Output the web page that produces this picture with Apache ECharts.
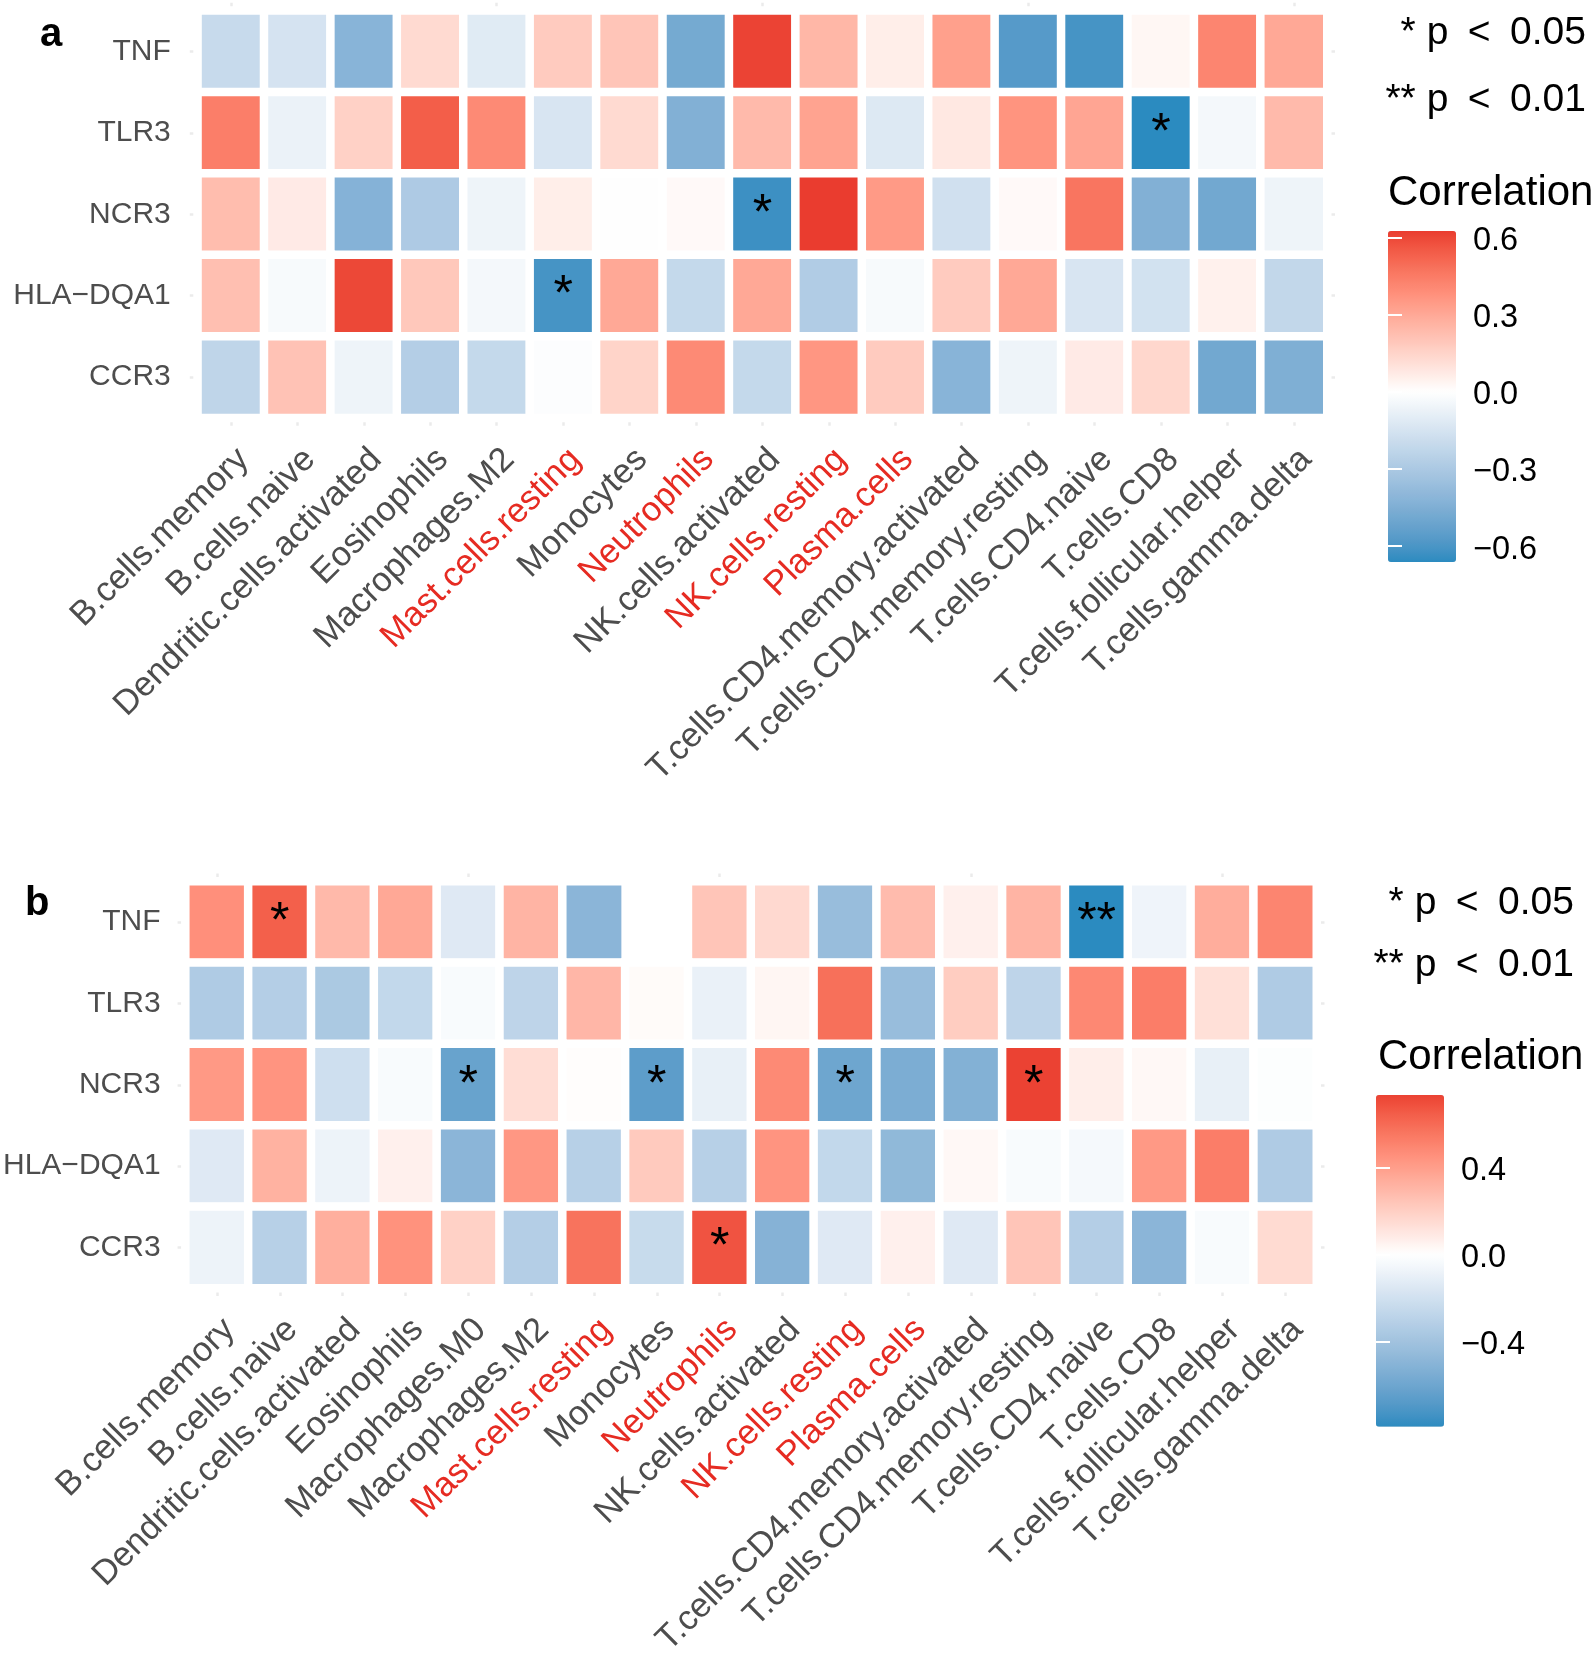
<!DOCTYPE html>
<html><head><meta charset="utf-8">
<script src="https://cdn.jsdelivr.net/npm/echarts@6/dist/echarts.min.js"></script>
<style>html,body{margin:0;padding:0;background:#fff}#c{width:1594px;height:1662px}</style>
</head><body><div id="c"></div>
<script>
// ---------- data ----------
const genes = ['TNF', 'TLR3', 'NCR3', 'HLA\u2212DQA1', 'CCR3'];
const cellsA = ['B.cells.memory','B.cells.naive','Dendritic.cells.activated','Eosinophils','Macrophages.M2','Mast.cells.resting','Monocytes','Neutrophils','NK.cells.activated','NK.cells.resting','Plasma.cells','T.cells.CD4.memory.activated','T.cells.CD4.memory.resting','T.cells.CD4.naive','T.cells.CD8','T.cells.follicular.helper','T.cells.gamma.delta'];
const cellsB = ['B.cells.memory','B.cells.naive','Dendritic.cells.activated','Eosinophils','Macrophages.M0','Macrophages.M2','Mast.cells.resting','Monocytes','Neutrophils','NK.cells.activated','NK.cells.resting','Plasma.cells','T.cells.CD4.memory.activated','T.cells.CD4.memory.resting','T.cells.CD4.naive','T.cells.CD8','T.cells.follicular.helper','T.cells.gamma.delta'];
const highlighted = ['Mast.cells.resting','Neutrophils','NK.cells.resting','Plasma.cells'];

// panel a correlations (rows = genes, columns = cellsA)
const a_TNF  = [-0.20,-0.15,-0.42, 0.13,-0.11, 0.18, 0.20,-0.48, 0.61, 0.25, 0.06, 0.33,-0.57,-0.61, 0.03, 0.42, 0.30];
const a_TLR3 = [ 0.44,-0.07, 0.16, 0.54, 0.40,-0.14, 0.13,-0.44, 0.24, 0.32,-0.12, 0.08, 0.37, 0.31,-0.662,-0.04, 0.24];
const a_NCR3 = [ 0.23, 0.07,-0.43,-0.29,-0.06, 0.06, 0.00, 0.02,-0.63, 0.626, 0.35,-0.17, 0.02, 0.47,-0.44,-0.49,-0.06];
const a_HLA  = [ 0.22,-0.03, 0.60, 0.19,-0.04,-0.61, 0.30,-0.21, 0.30,-0.28,-0.03, 0.18, 0.30,-0.14,-0.16, 0.05,-0.22];
const a_CCR3 = [-0.23, 0.21,-0.06,-0.27,-0.21,-0.01, 0.15, 0.40,-0.21, 0.36, 0.18,-0.42,-0.06, 0.07, 0.14,-0.49,-0.45];
const a_sig_TNF  = [];
const a_sig_TLR3 = [[14,'*']];
const a_sig_NCR3 = [[8,'*']];
const a_sig_HLA  = [[5,'*']];
const a_sig_CCR3 = [];

// panel b correlations (rows = genes, columns = cellsB); null = missing
const b_TNF  = [ 0.46, 0.64, 0.29, 0.36,-0.14, 0.31,-0.49, null, 0.24, 0.16,-0.44, 0.28, 0.06, 0.31,-0.791,-0.07, 0.34, 0.50];
const b_TLR3 = [-0.34,-0.32,-0.36,-0.26,-0.03,-0.28, 0.30, 0.02,-0.09, 0.04, 0.58,-0.44, 0.21,-0.28, 0.49, 0.53, 0.13,-0.34];
const b_NCR3 = [ 0.42, 0.44,-0.21,-0.03,-0.62, 0.14, 0.01,-0.66,-0.10, 0.48,-0.60,-0.55,-0.52, 0.734, 0.07, 0.03,-0.10,-0.01];
const b_HLA  = [-0.14, 0.32,-0.08, 0.06,-0.49, 0.43,-0.31, 0.22,-0.31, 0.44,-0.26,-0.47, 0.03,-0.03,-0.04, 0.42, 0.53,-0.34];
const b_CCR3 = [-0.08,-0.31, 0.33, 0.45, 0.19,-0.32, 0.57,-0.24, 0.68,-0.51,-0.14, 0.06,-0.14, 0.24,-0.32,-0.49,-0.03, 0.15];
const b_sig_TNF  = [[1,'*'],[14,'**']];
const b_sig_TLR3 = [];
const b_sig_NCR3 = [[4,'*'],[7,'*'],[10,'*'],[13,'*']];
const b_sig_HLA  = [];
const b_sig_CCR3 = [[8,'*']];

const ticksA = [-0.6, -0.3, 0, 0.3, 0.6];
const ticksB = [-0.4, 0, 0.4];

// ---------- colour scale (gradient2 in Lab) ----------
const LOW = '#2B8BC0', MID = '#FFFFFF', HIGH = '#E62A24';
function lin(c){c/=255;return c<=0.04045?c/12.92:Math.pow((c+0.055)/1.055,2.4);}
function unlin(c){const v=c<=0.0031308?12.92*c:1.055*Math.pow(c,1/2.4)-0.055;return Math.round(Math.max(0,Math.min(1,v))*255);}
function hex2lab(h){
  const r=lin(parseInt(h.slice(1,3),16)),g=lin(parseInt(h.slice(3,5),16)),b=lin(parseInt(h.slice(5,7),16));
  const X=(0.4124*r+0.3576*g+0.1805*b)/0.95047,Y=(0.2126*r+0.7152*g+0.0722*b),Z=(0.0193*r+0.1192*g+0.9505*b)/1.08883;
  const f=t=>t>0.008856?Math.cbrt(t):7.787*t+16/116;
  const fx=f(X),fy=f(Y),fz=f(Z);
  return [116*fy-16,500*(fx-fy),200*(fy-fz)];
}
function lab2hex(L,a,b){
  const fy=(L+16)/116,fx=fy+a/500,fz=fy-b/200;
  const fi=t=>{const t3=t*t*t;return t3>0.008856?t3:(t-16/116)/7.787;};
  const X=0.95047*fi(fx),Y=fi(fy),Z=1.08883*fi(fz);
  const r=3.2406*X-1.5372*Y-0.4986*Z,g=-0.9689*X+1.8758*Y+0.0415*Z,bb=0.0557*X-0.2040*Y+1.0570*Z;
  return '#'+[r,g,bb].map(v=>unlin(v).toString(16).padStart(2,'0')).join('');
}
const labLow=hex2lab(LOW),labMid=hex2lab(MID),labHigh=hex2lab(HIGH);
function grad2(v,maxAbs){
  let t=v/maxAbs; t=Math.max(-1,Math.min(1,t));
  const end=t>=0?labHigh:labLow, s=Math.abs(t);
  return lab2hex(labMid[0]+(end[0]-labMid[0])*s,labMid[1]+(end[1]-labMid[1])*s,labMid[2]+(end[2]-labMid[2])*s);
}
function rampColors(min,max){
  const maxAbs=Math.max(Math.abs(min),Math.abs(max)),n=121,out=[];
  for(let i=0;i<n;i++){out.push(grad2(min+(max-min)*i/(n-1),maxAbs));}
  return out;
}

// ---------- build heatmap data ----------
function build(rows, sigs){
  const out=[];
  rows.forEach((row,yi)=>{
    const sig={}; sigs[yi].forEach(s=>{sig[s[0]]=s[1];});
    row.forEach((v,xi)=>{ out.push([xi,yi,v===null?'-':v,sig[xi]||'']); });
  });
  return out;
}
const rowsA=[a_TNF,a_TLR3,a_NCR3,a_HLA,a_CCR3];
const rowsB=[b_TNF,b_TLR3,b_NCR3,b_HLA,b_CCR3];
const dataA=build(rowsA,[a_sig_TNF,a_sig_TLR3,a_sig_NCR3,a_sig_HLA,a_sig_CCR3]);
const dataB=build(rowsB,[b_sig_TNF,b_sig_TLR3,b_sig_NCR3,b_sig_HLA,b_sig_CCR3]);
const flat=rs=>rs.flat().filter(v=>v!==null);
const minA=Math.min(...flat(rowsA)),maxA=Math.max(...flat(rowsA));
const minB=Math.min(...flat(rowsB)),maxB=Math.max(...flat(rowsB));

// ---------- styling helpers ----------
const FONT='"Liberation Sans", Arial, Helvetica, sans-serif';
const GREY='#4D4D4D', RED='#E62B22', STUB='#EBEBEB';
const fmtTick=v=>'{t|'+(v===0?'0.0':(v<0?'\u2212'+Math.abs(v).toFixed(1):v.toFixed(1)))+'}';

function xLabelAxis(grid,cats){
  return {type:'category',gridIndex:grid,data:cats,position:'bottom',
    axisLine:{show:false},
    axisTick:{show:true,alignWithLabel:true,length:8,lineStyle:{color:STUB,width:2.5}},
    axisLabel:{interval:0,rotate:45,fontSize:34.5,fontFamily:FONT,align:'right',verticalAlign:'top',margin:24,
      color:(val)=>highlighted.indexOf(val)>=0?RED:GREY},
    splitLine:{show:false}};
}
function xStubAxis(grid,cats){
  return {type:'category',gridIndex:grid,data:cats,position:'top',
    axisLine:{show:false},axisLabel:{show:false},
    axisTick:{show:true,alignWithLabel:true,length:8,lineStyle:{color:STUB,width:2.5}},splitLine:{show:false}};
}
function yLabelAxis(grid,margin){
  return {type:'category',gridIndex:grid,data:genes,inverse:true,position:'left',
    axisLine:{show:false},
    axisTick:{show:true,alignWithLabel:true,length:8,lineStyle:{color:STUB,width:2.5}},
    axisLabel:{fontSize:30,fontFamily:FONT,color:GREY,margin:margin},splitLine:{show:false}};
}
function yStubAxis(grid){
  return {type:'category',gridIndex:grid,data:genes,inverse:true,position:'right',
    axisLine:{show:false},axisLabel:{show:false},
    axisTick:{show:true,alignWithLabel:true,length:8,lineStyle:{color:STUB,width:2.5}},splitLine:{show:false}};
}
function cbAxis(grid,min,max,ticks,pos,labels){
  return {type:'value',gridIndex:grid,min:min,max:max,position:pos,z:10,
    axisLine:{show:false},splitLine:{show:false},
    axisTick:{show:true,inside:true,length:14,customValues:ticks,lineStyle:{color:'#FFFFFF',width:2}},
    axisLabel:{show:labels,customValues:ticks,formatter:fmtTick,margin:17,
      rich:{t:{fontSize:32.5,fontFamily:FONT,color:'#000',padding:[7,0,0,0]}}}};
}
function heat(xi,yi,data){
  return {type:'heatmap',xAxisIndex:xi,yAxisIndex:yi,data:data,
    itemStyle:{borderColor:'#FFFFFF',borderWidth:8.5},
    emphasis:{disabled:true},
    label:{show:true,formatter:p=>p.data[3],fontSize:50,fontFamily:FONT,color:'#000',offset:[0,1]}};
}
function txt(x,y,s,size,align,weight){
  return {type:'text',x:x,y:y,style:{text:s,font:(weight||'normal')+' '+size+'px '+FONT,fill:'#000',align:align,verticalAlign:'middle'}};
}
const SP='\u2002';

const chart=echarts.init(document.getElementById('c'),null,{renderer:'canvas'});
chart.setOption({
  animation:false,
  backgroundColor:'#fff',
  grid:[
    {left:197.8,top:10.8,width:1129.2,height:407},
    {left:184.2,top:881.5,width:1132.3,height:406.5},
    {left:1388,top:231,width:68,height:331},
    {left:1376,top:1095,width:68,height:331.7}
  ],
  xAxis:[
    xLabelAxis(0,cellsA), xStubAxis(0,cellsA),
    xLabelAxis(1,cellsB), xStubAxis(1,cellsB),
    {type:'value',gridIndex:2,show:false},{type:'value',gridIndex:3,show:false}
  ],
  yAxis:[
    yLabelAxis(0,27), yStubAxis(0),
    yLabelAxis(1,25), yStubAxis(1),
    cbAxis(2,minA,maxA,ticksA,'right',true), cbAxis(2,minA,maxA,ticksA,'left',false),
    cbAxis(3,minB,maxB,ticksB,'right',true), cbAxis(3,minB,maxB,ticksB,'left',false)
  ],
  visualMap:[
    {type:'continuous',seriesIndex:0,dimension:2,min:minA,max:maxA,inRange:{color:rampColors(minA,maxA)},
     left:1388,top:231,itemWidth:68,itemHeight:331,padding:0,calculable:false,hoverLink:false,orient:'vertical'},
    {type:'continuous',seriesIndex:1,dimension:2,min:minB,max:maxB,inRange:{color:rampColors(minB,maxB)},
     left:1376,top:1095,itemWidth:68,itemHeight:331.7,padding:0,calculable:false,hoverLink:false,orient:'vertical'}
  ],
  series:[heat(0,0,dataA),heat(2,2,dataB)],
  graphic:[
    txt(40,35,'a',40,'left','bold'),
    txt(25,904,'b',40,'left','bold'),
    txt(1586,33,'* p'+SP+'<'+SP+'0.05',39,'right'),
    txt(1586,100,'** p'+SP+'<'+SP+'0.01',39,'right'),
    txt(1388,193,'Correlation',42,'left'),
    txt(1574,903,'* p'+SP+'<'+SP+'0.05',39,'right'),
    txt(1574,965,'** p'+SP+'<'+SP+'0.01',39,'right'),
    txt(1378,1057,'Correlation',42,'left')
  ]
});
</script></body></html>
